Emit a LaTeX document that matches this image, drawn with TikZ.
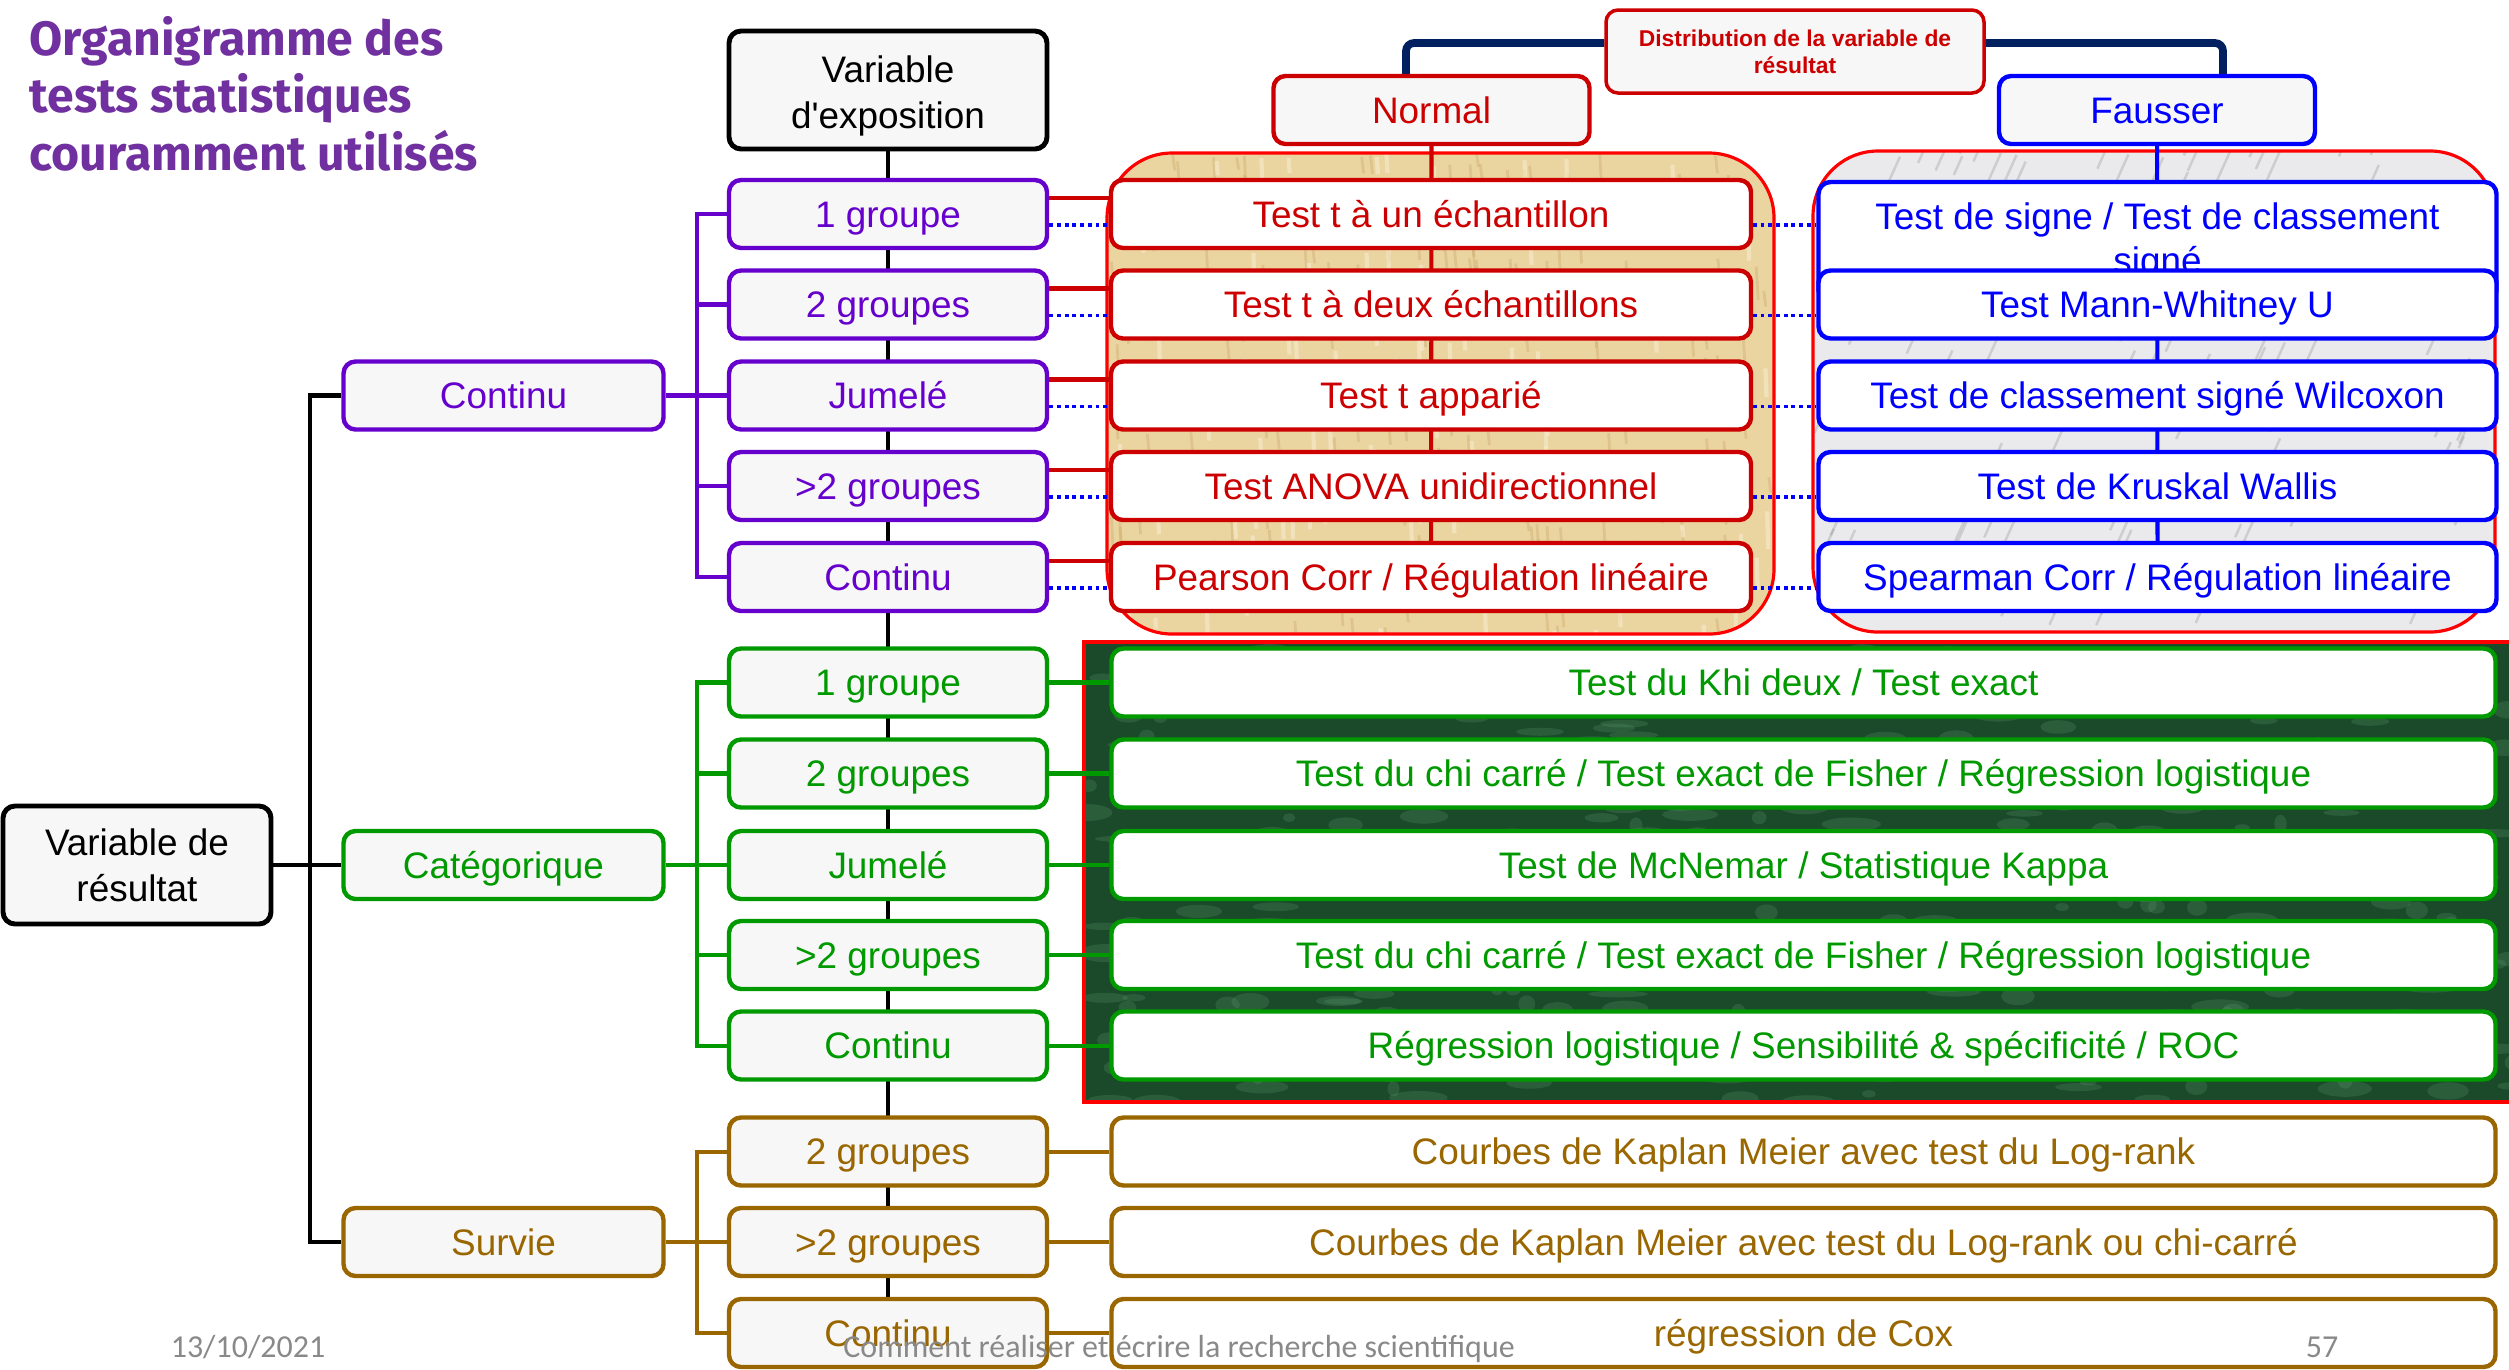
\documentclass[tikz,border=0pt]{standalone}
\usepackage{fontspec}
\setmainfont{Liberation Sans}
\newfontfamily\titlefont{Fira Sans}
\newfontfamily\footfont{Carlito}
\usetikzlibrary{calc}
\pgfdeclarelayer{bg}
\pgfdeclarelayer{wires}
\pgfsetlayers{bg,wires,main}

\definecolor{purp}{RGB}{102,0,204}
\definecolor{titlep}{RGB}{112,48,160}
\definecolor{redc}{RGB}{204,0,0}
\definecolor{panelred}{RGB}{255,0,0}
\definecolor{bluec}{RGB}{0,0,255}
\definecolor{greenc}{RGB}{0,153,0}
\definecolor{brownc}{RGB}{153,102,0}
\definecolor{navy}{RGB}{0,32,96}
\definecolor{boxfill}{RGB}{247,247,247}
\definecolor{footgray}{RGB}{137,137,137}
\definecolor{wood}{RGB}{234,212,160}
\definecolor{wooddark}{RGB}{200,168,105}
\definecolor{woodlight}{RGB}{248,236,205}
\definecolor{marble}{RGB}{234,234,236}
\definecolor{marbledark}{RGB}{140,140,145}
\definecolor{moss}{RGB}{26,74,42}
\definecolor{mosslight}{RGB}{95,150,110}

\tikzset{
  cbox/.style={draw, rounded corners=1.2mm, line width=1.25pt, fill=boxfill,
    inner sep=0pt, align=center, font=\fontsize{10.5}{13}\selectfont},
  oneline/.style={text height=9.7pt, text depth=2.2pt},
  lvltwo/.style={cbox, oneline, minimum width=32mm, minimum height=6.8mm},
  lvlthree/.style={cbox, oneline, minimum width=31.8mm, minimum height=6.8mm},
  header/.style={cbox, oneline, minimum width=31.6mm, minimum height=6.8mm},
  normtest/.style={cbox, oneline, fill=white, draw=redc, text=redc, minimum width=64mm, minimum height=6.8mm},
  nonpbase/.style={cbox, fill=white, draw=bluec, text=bluec, minimum width=67.8mm, minimum height=6.8mm},
  nonptest/.style={nonpbase, oneline},
  widetest/.style={cbox, oneline, fill=white, minimum width=138.4mm, minimum height=6.8mm},
  treeline/.style={line width=1.15pt},
  dotline/.style={bluec, line width=1.1pt, dash pattern=on 1.1pt off 1.1pt},
  titleline/.style={anchor=base west, inner sep=0pt, text=titlep,
    font=\titlefont\bfseries\fontsize{13.7}{16}\selectfont},
  foot/.style={anchor=base, inner sep=0pt, text=footgray,
    font=\footfont\fontsize{9.1}{11}\selectfont},
  panelborder/.style={panelred, line width=0.9pt}
}

\begin{document}
\begin{tikzpicture}[x=0.1mm, y=-0.1mm]
\clip (0,0) rectangle (2509,1369);

% ---------- textured panels ----------
\begin{pgfonlayer}{bg}
  \fill[white] (0,0) rectangle (2509,1369);
  % wood panel behind the parametric tests
  \begin{scope}
    \clip[rounded corners=6.5mm] (1107,153) rectangle (1774,634);
    \fill[wood] (1107,153) rectangle (1774,634);
    \pgfmathsetseed{11}
    \foreach \i in {1,...,220}{
      \pgfmathsetmacro\xa{1107+667*rnd}
      \pgfmathsetmacro\ya{153+481*rnd}
      \pgfmathsetmacro\la{12+30*rnd}
      \draw[wooddark, line width=0.8pt, opacity=0.35] (\xa,\ya) -- ++(2,\la);
    }
    \foreach \i in {1,...,120}{
      \pgfmathsetmacro\xa{1107+667*rnd}
      \pgfmathsetmacro\ya{153+481*rnd}
      \pgfmathsetmacro\la{12+30*rnd}
      \draw[woodlight, line width=1.2pt, opacity=0.6] (\xa,\ya) -- ++(1,\la);
    }
  \end{scope}
  \draw[panelborder, rounded corners=6.5mm] (1107,153) rectangle (1774,634);

  % marble panel behind the non-parametric tests
  \begin{scope}
    \clip[rounded corners=6.5mm] (1813,151) rectangle (2495,632);
    \fill[marble] (1813,151) rectangle (2495,632);
    \pgfmathsetseed{23}
    \foreach \i in {1,...,170}{
      \pgfmathsetmacro\xa{1813+682*rnd}
      \pgfmathsetmacro\ya{151+481*rnd}
      \pgfmathsetmacro\la{10+25*rnd}
      \draw[marbledark, line width=0.7pt, opacity=0.3] (\xa,\ya) -- ++(0.45*\la,-\la);
    }
  \end{scope}
  \draw[panelborder, rounded corners=6.5mm] (1813,151) rectangle (2495,632);

  % green marble panel behind the categorical tests
  \begin{scope}
    \clip (1084,642) rectangle (2520,1102);
    \fill[moss] (1084,642) rectangle (2520,1102);
    \pgfmathsetseed{5}
    \foreach \i in {1,...,320}{
      \pgfmathsetmacro\xa{1084+1436*rnd}
      \pgfmathsetmacro\ya{642+460*rnd}
      \pgfmathsetmacro\ra{0.6+2.4*rnd}
      \pgfmathsetmacro\rb{0.3+0.6*rnd}
      \fill[mosslight, opacity=0.25] (\xa,\ya) ellipse [x radius=\ra mm, y radius=\rb mm];
    }
  \end{scope}
  \draw[panelborder] (1084,642) rectangle (2520,1102);
\end{pgfonlayer}

% ---------- title ----------
\node[titleline] (t1) at (29,55) {Organigramme des};
\node[titleline] (t2) at (29,112) {tests statistiques};
\node[titleline] (t3) at (29,170) {couramment utilisés};

% ---------- left part of the tree ----------
\node[cbox, line width=1.4pt, minimum width=31.8mm, minimum height=11.8mm] (expo) at (888,90) {\rule{0pt}{11pt}Variable\\d\textquotesingle exposition};
\node[cbox, line width=1.4pt, minimum width=26.8mm, minimum height=11.8mm] (res) at (137,865) {Variable de\\résultat};

\node[lvltwo, draw=purp, text=purp] (pC) at (503.5,395.5) {Continu};
\node[lvltwo, draw=greenc, text=greenc] (gC) at (503.5,865) {Catégorique};
\node[lvltwo, draw=brownc, text=brownc] (bS) at (503.5,1242) {Survie};

\node[lvlthree, draw=purp, text=purp] (p1) at (888,214) {1 groupe};
\node[lvlthree, draw=purp, text=purp] (p2) at (888,304.5) {2 groupes};
\node[lvlthree, draw=purp, text=purp] (p3) at (888,395.5) {Jumelé};
\node[lvlthree, draw=purp, text=purp] (p4) at (888,486) {>2 groupes};
\node[lvlthree, draw=purp, text=purp] (p5) at (888,577) {Continu};

\node[lvlthree, draw=greenc, text=greenc] (g1) at (888,682.5) {1 groupe};
\node[lvlthree, draw=greenc, text=greenc] (g2) at (888,773.5) {2 groupes};
\node[lvlthree, draw=greenc, text=greenc] (g3) at (888,865) {Jumelé};
\node[lvlthree, draw=greenc, text=greenc] (g4) at (888,955) {>2 groupes};
\node[lvlthree, draw=greenc, text=greenc] (g5) at (888,1045.5) {Continu};

\node[lvlthree, draw=brownc, text=brownc] (b1) at (888,1151.5) {2 groupes};
\node[lvlthree, draw=brownc, text=brownc] (b2) at (888,1242) {>2 groupes};
\node[lvlthree, draw=brownc, text=brownc] (b3) at (888,1333) {Continu};

% ---------- distribution headers ----------
\node[cbox, draw=redc, text=redc, line width=1pt, minimum width=37.8mm, minimum height=8.3mm,
  font=\bfseries\fontsize{6.5}{7.7}\selectfont] (dist) at (1795,51.5) {Distribution de la variable de\\résultat};
\node[header, draw=redc, text=redc] (nh) at (1431.5,110) {Normal};
\node[header, draw=bluec, text=bluec] (fh) at (2157,110) {Fausser};

% ---------- parametric tests ----------
\node[normtest] (n1) at (1431,214) {Test t à un échantillon};
\node[normtest] (n2) at (1431,304.5) {Test t à deux échantillons};
\node[normtest] (n3) at (1431,395.5) {Test t apparié};
\node[normtest] (n4) at (1431,486) {Test ANOVA unidirectionnel};
\node[normtest] (n5) at (1431,577) {Pearson Corr / Régulation linéaire};

% ---------- non-parametric tests ----------
\node[nonpbase, minimum height=12mm, font=\fontsize{10.5}{12.4}\selectfont] (f1) at (2157.5,242) {Test de signe / Test de classement\\signé};
\node[nonptest] (f2) at (2157.5,304.5) {Test Mann-Whitney U};
\node[nonptest] (f3) at (2157.5,395.5) {Test de classement signé Wilcoxon};
\node[nonptest] (f4) at (2157.5,486) {Test de Kruskal Wallis};
\node[nonptest] (f5) at (2157.5,577) {Spearman Corr / Régulation linéaire};

% ---------- categorical tests ----------
\node[widetest, draw=greenc, text=greenc] (G1) at (1803.5,682.5) {Test du Khi deux / Test exact};
\node[widetest, draw=greenc, text=greenc] (G2) at (1803.5,773.5) {Test du chi carré / Test exact de Fisher / Régression logistique};
\node[widetest, draw=greenc, text=greenc] (G3) at (1803.5,865) {Test de McNemar / Statistique Kappa};
\node[widetest, draw=greenc, text=greenc] (G4) at (1803.5,955) {Test du chi carré / Test exact de Fisher / Régression logistique};
\node[widetest, draw=greenc, text=greenc] (G5) at (1803.5,1045.5) {Régression logistique / Sensibilité \& spécificité / ROC};

% ---------- survival tests ----------
\node[widetest, draw=brownc, text=brownc] (B1) at (1803.5,1151.5) {Courbes de Kaplan Meier avec test du Log-rank};
\node[widetest, draw=brownc, text=brownc] (B2) at (1803.5,1242) {Courbes de Kaplan Meier avec test du Log-rank ou chi-carré};
\node[widetest, draw=brownc, text=brownc] (B3) at (1803.5,1333) {régression de Cox};

% ---------- connectors ----------
\coordinate (trk) at (310,0);
\coordinate (ptk) at (697,0);
\coordinate (bl) at (1406,0);
\coordinate (br) at (2223,0);
\coordinate (brk) at (0,43);
\begin{pgfonlayer}{wires}
  % trunk through the exposure groups
  \draw[treeline, black] (expo.south) -- (b3.north);
  % outcome variable tree
  \draw[treeline, black, line width=1.3pt] (res.east) -- (res.east -| trk);
  \draw[treeline, black] (pC.west) -- (pC.west -| trk) -- (bS.west -| trk) -- (bS.west);
  \draw[treeline, black] (gC.west -| trk) -- (gC.west);
  % purple tree
  \draw[treeline, purp] (pC.east) -- (p3.west);
  \draw[treeline, purp] (p1.west) -- (p1.west -| ptk) -- (p5.west -| ptk) -- (p5.west);
  \foreach \n in {p2,p4} \draw[treeline, purp] (\n.west -| ptk) -- (\n.west);
  % green tree
  \draw[treeline, greenc] (gC.east) -- (g3.west);
  \draw[treeline, greenc] (g1.west) -- (g1.west -| ptk) -- (g5.west -| ptk) -- (g5.west);
  \foreach \n in {g2,g4} \draw[treeline, greenc] (\n.west -| ptk) -- (\n.west);
  % brown tree
  \draw[treeline, brownc] (bS.east) -- (b2.west);
  \draw[treeline, brownc] (b1.west) -- (b1.west -| ptk) -- (b3.west -| ptk) -- (b3.west);
  % distribution bracket
  \draw[navy, line width=2.2pt, rounded corners=0.8mm] (bl |- nh.north) -- (bl |- brk) -- (dist.west |- brk);
  \draw[navy, line width=2.2pt, rounded corners=0.8mm] (br |- fh.north) -- (br |- brk) -- (dist.east |- brk);
  % column spines
  \draw[treeline, redc] (nh.south) -- (n5.north);
  \draw[treeline, bluec] (fh.south) -- (f5.north);
  % continuous outcome: normal (solid) and non-normal (dotted)
  \foreach \a/\b/\c in {p1/n1/f1,p2/n2/f2,p3/n3/f3,p4/n4/f4,p5/n5/f5}{
    \draw[redc, line width=1.2pt] ([yshift=1.6mm]\a.east) -- ([yshift=1.6mm]\a.east -| \b.west);
    \draw[dotline] ([yshift=-1.1mm]\a.east) -- ([yshift=-1.1mm]\a.east -| \c.west);
  }
  % categorical and survival outcomes
  \foreach \a/\b in {g1/G1,g2/G2,g3/G3,g4/G4,g5/G5}
    \draw[treeline, greenc] (\a.east) -- (\b.west);
  \foreach \a/\b in {b1/B1,b2/B2,b3/B3}
    \draw[treeline, brownc] (\a.east) -- (\b.west);
\end{pgfonlayer}

% ---------- slide footer ----------
\node[foot] (date) at (248,1357) {13/10/2021};
\node[foot] (ftitle) at (1179,1357) {Comment réaliser et écrire la recherche scientifique};
\node[foot] (pagenum) at (2322,1357) {57};
\end{tikzpicture}
\end{document}
